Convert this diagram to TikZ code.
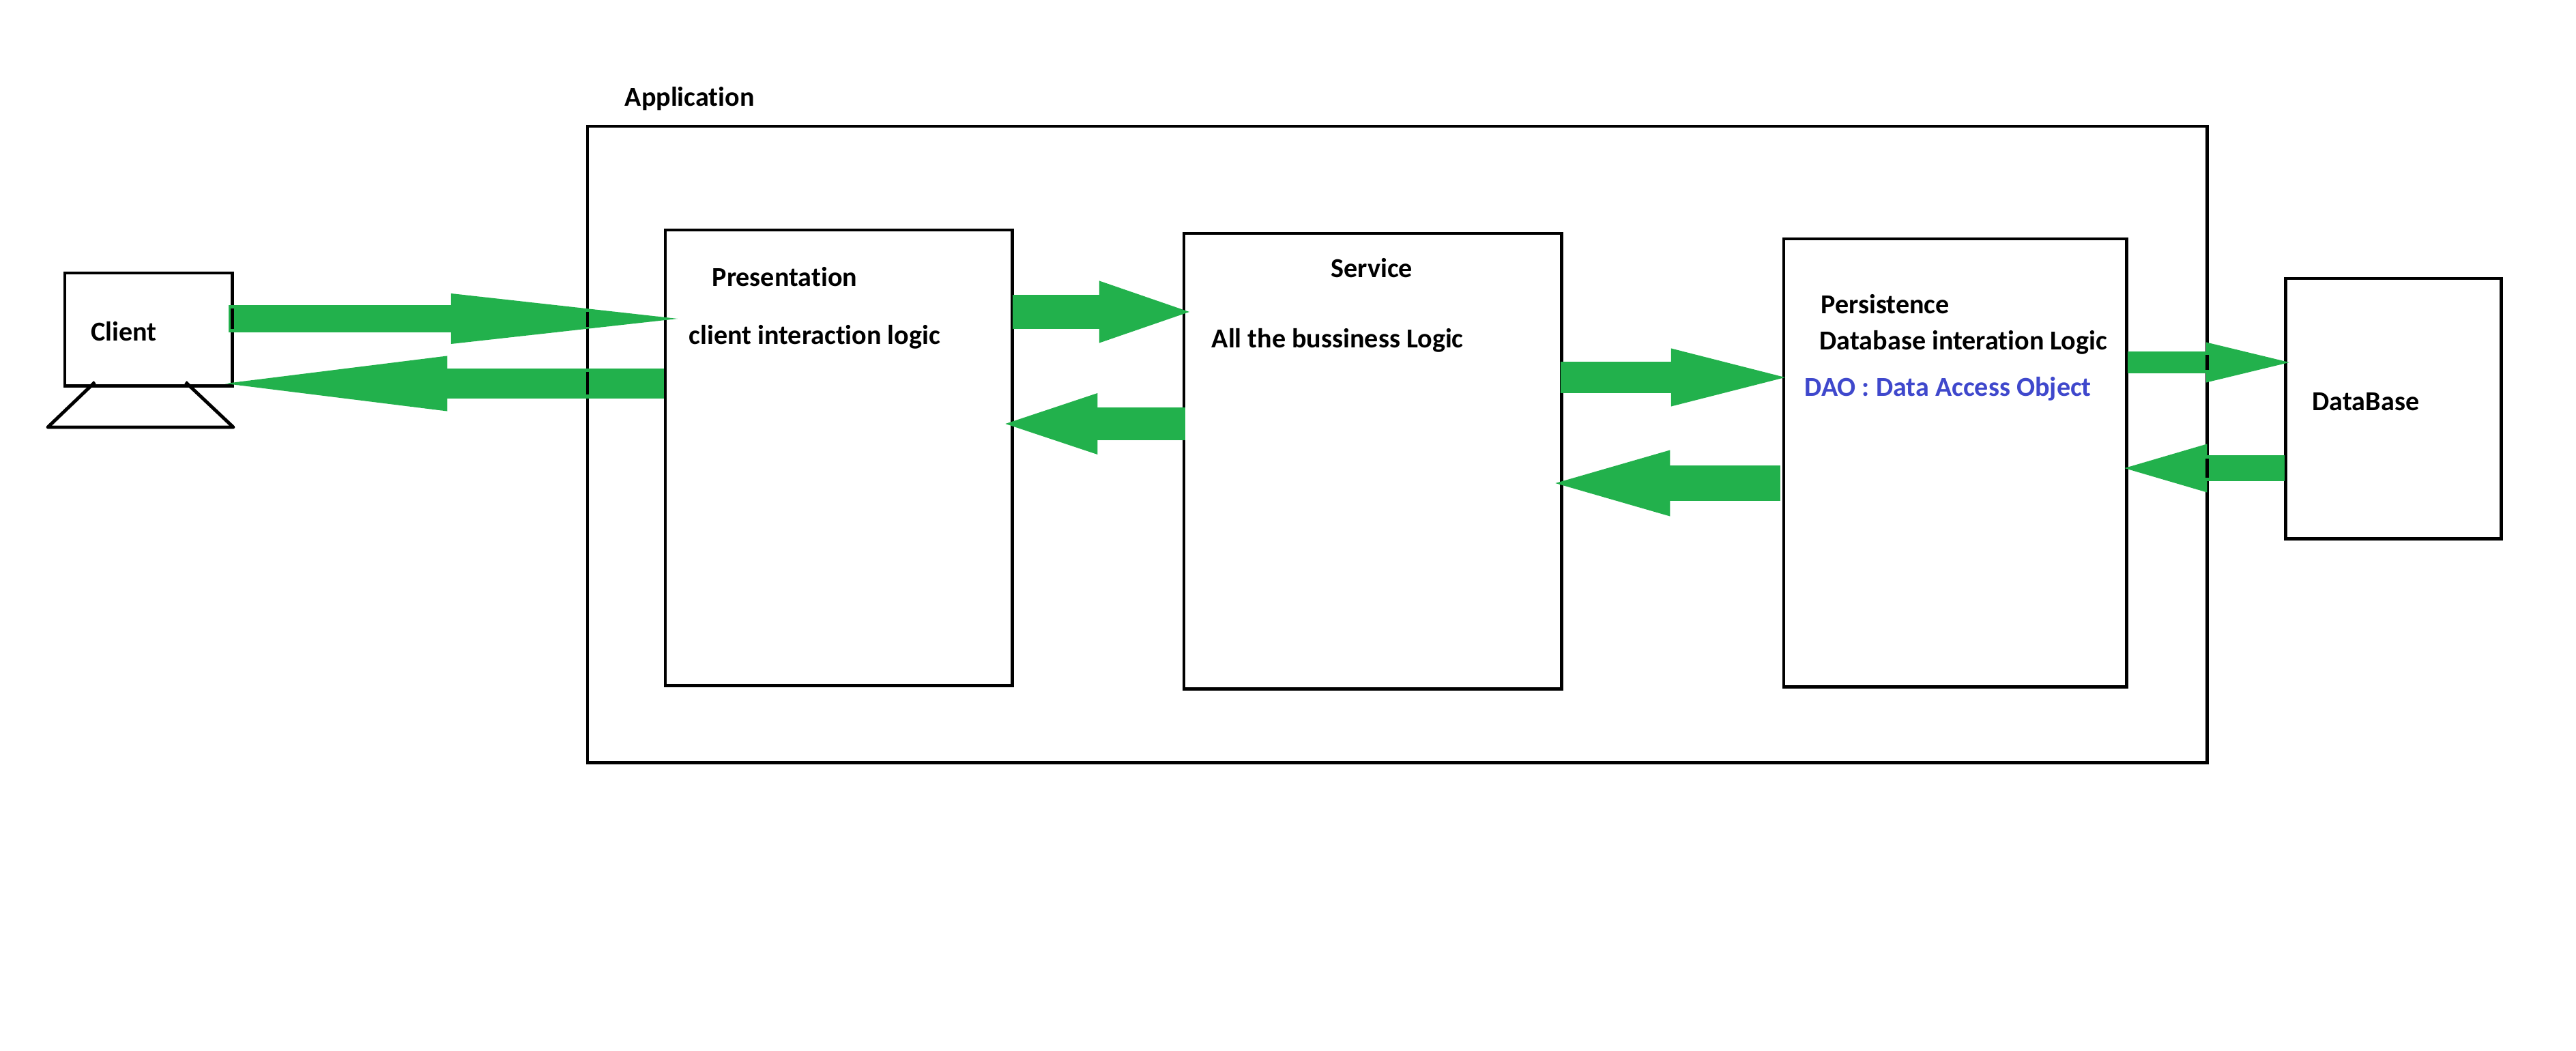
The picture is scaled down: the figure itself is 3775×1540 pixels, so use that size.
\documentclass[tikz,border=0pt]{standalone}
\usepackage{fontspec}
\setmainfont[Ligatures=NoCommon]{Carlito}
\usetikzlibrary{arrows.meta}
\definecolor{flowgreen}{HTML}{22B14C}
\definecolor{daoblue}{HTML}{3F48CC}
\tikzset{
	tier/.style={draw,line width=1.4pt,anchor=north west,inner sep=0pt,outer sep=0pt},
	caption/.style={anchor=base west,inner sep=0pt,font=\fontsize{11.4pt}{14pt}\selectfont\bfseries},
	flow/.style n args={3}{draw=flowgreen,line width=#1,-{Triangle[length=#2,width=#3,line width=0pt,fill=flowgreen]}}
}
\begin{document}
\begin{tikzpicture}[x=0.01cm,y=-0.01cm]
	\useasboundingbox (0,0) rectangle (3775,1540);
	\node[tier,minimum width=2.45cm,minimum height=1.65cm](client) at (95,400){};
	\node[tier,minimum width=23.72cm,minimum height=9.32cm](app) at (861,185){};
	\node[tier,minimum width=5.08cm,minimum height=6.67cm](present) at (975,337){};
	\node[tier,minimum width=5.53cm,minimum height=6.67cm](service) at (1735,342){};
	\node[tier,minimum width=5.02cm,minimum height=6.56cm](persist) at (2614,350){};
	\node[tier,minimum width=3.16cm,minimum height=3.81cm](database) at (3349,408){};
	% stand of the client
	\draw[line width=1.4pt,line join=round] (139,560) -- (70,626) -- (342,626) -- (272,560);
	\node[caption](clientname) at (133,500){Client};
	\node[caption](appname) at (915,156){Application};
	\node[caption](presentname) at (1043,420){Presentation};
	\node[caption](presentnote) at (1009,505){client interaction logic};
	\node[caption](servicename) at (1950,407){Service};
	\node[caption](servicenote) at (1775,510){All the bussiness Logic};
	\node[caption](persistname) at (2668,460){Persistence};
	\node[caption](persistnote) at (2666,513){Database interation Logic};
	\node[caption,text=daoblue](daonote) at (2644,581){DAO : Data Access Object};
	\node[caption](databasename) at (3388,602){DataBase};
	\draw[flow={0.40cm}{3.32cm}{0.74cm}] ([xshift=-0.05cm]client.east |- 0,467) -- ([xshift=0.18cm]present.west |- 0,467);
	\draw[flow={0.44cm}{3.25cm}{0.81cm}] ([xshift=-0.02cm]present.west |- 0,562) -- ([xshift=-0.10cm]client.east |- 0,562);
	\draw[flow={0.49cm}{1.32cm}{0.91cm}] ([xshift=0.01cm]present.east |- 0,457) -- ([xshift=0.08cm]service.west |- 0,457);
	\draw[flow={0.48cm}{1.35cm}{0.90cm}] ([xshift=0.02cm]service.west |- 0,621) -- ([xshift=-0.10cm]present.east |- 0,621);
	\draw[flow={0.45cm}{1.67cm}{0.85cm}] ([xshift=-0.01cm]service.east |- 0,553) -- ([xshift=0.02cm]persist.west |- 0,553);
	\draw[flow={0.51cm}{1.68cm}{0.97cm}] ([xshift=-0.05cm]persist.west |- 0,708) -- ([xshift=-0.09cm]service.east |- 0,708);
	\draw[flow={0.32cm}{1.22cm}{0.59cm}] ([xshift=0.02cm]persist.east |- 0,531) -- ([xshift=0.06cm]database.west |- 0,531);
	\draw[flow={0.38cm}{1.21cm}{0.71cm}] ([xshift=-0.01cm]database.west |- 0,686) -- ([xshift=-0.03cm]persist.east |- 0,686);
	% box edges that still show through the green
	\foreach \a/\b in {457/479,545/578}
		\draw[line width=1.4pt] (app.west |- 0,\a) -- (app.west |- 0,\b);
	\foreach \a/\b in {520/542,672/700}
		\draw[line width=1.4pt] (app.east |- 0,\a) -- (app.east |- 0,\b);
	\draw[line width=1.4pt] (client.east |- 0,452) -- (client.east |- 0,482);
\end{tikzpicture}
\end{document}
